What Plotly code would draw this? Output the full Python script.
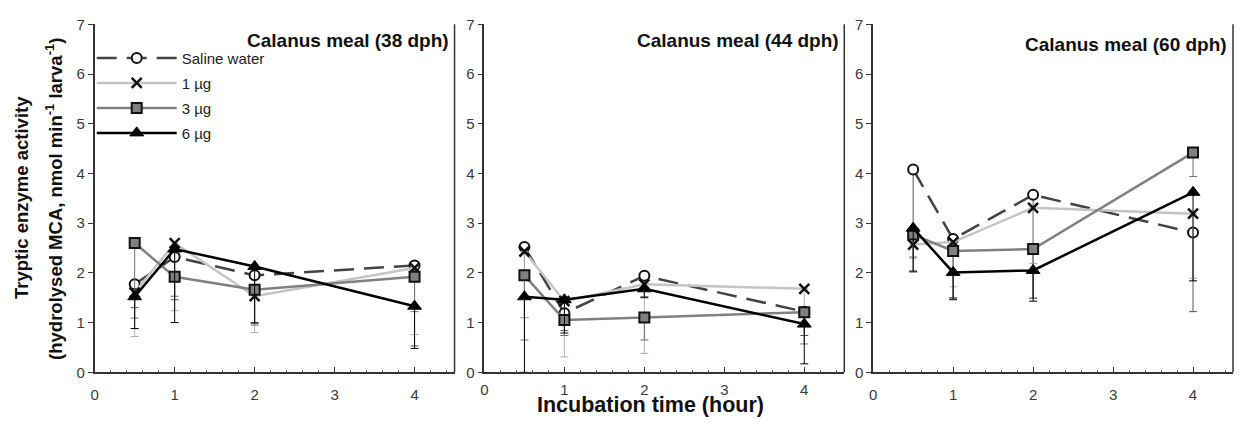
import plotly.graph_objects as go

times = [0.5, 1, 2, 4]
panel_titles = ["Calanus meal (38 dph)", "Calanus meal (44 dph)", "Calanus meal (60 dph)"]
series_names = ["Saline water", "1 µg", "3 µg", "6 µg"]

# mean values per panel (38, 44, 60 dph)
saline = [[1.77, 2.32, 1.95, 2.15], [2.52, 1.19, 1.94, 1.22], [4.08, 2.68, 3.57, 2.81]]
ug1 = [[1.60, 2.60, 1.53, 2.10], [2.43, 1.43, 1.77, 1.68], [2.57, 2.62, 3.31, 3.19]]
ug3 = [[2.60, 1.92, 1.66, 1.92], [1.95, 1.05, 1.10, 1.21], [2.77, 2.44, 2.48, 4.42]]
ug6 = [[1.52, 2.48, 2.13, 1.33], [1.52, 1.46, 1.68, 0.97], [2.90, 2.01, 2.05, 3.62]]

# lower end of the error bars
saline_low = [[1.30, 1.46, 1.00, 0.53], [1.10, 0.84, 1.52, 0.74], [2.04, 1.50, 1.49, 1.22]]
ug1_low = [[0.72, 1.24, 0.80, 0.76], [1.10, 0.31, 0.38, 1.30], [2.33, 1.72, 2.19, 1.89]]
ug3_low = [[1.09, 1.53, 0.95, 1.22], [0.65, 0.74, 0.65, 0.57], [2.30, 1.49, 1.49, 3.94]]
ug6_low = [[0.88, 1.00, 0.99, 0.48], [0.00, 0.79, 1.50, 0.17], [2.02, 1.46, 1.43, 1.84]]

x_ticks = [0, 1, 2, 3, 4]
y_ticks = [0, 1, 2, 3, 4, 5, 6, 7]

styles = [
    dict(line=dict(color="#444444", width=2.5, dash="20px,10px"),
         marker=dict(symbol="circle", size=10, color="white", line=dict(color="#111111", width=2)),
         ecolor="#555555"),
    dict(line=dict(color="#c4c4c4", width=2.5),
         marker=dict(symbol="x-thin", size=10, color="#111111", line=dict(color="#111111", width=2.5)),
         ecolor="#b0b0b0"),
    dict(line=dict(color="#808080", width=2.5),
         marker=dict(symbol="square", size=10, color="#808080", line=dict(color="#111111", width=2)),
         ecolor="#707070"),
    dict(line=dict(color="#000000", width=2.5),
         marker=dict(symbol="triangle-up", size=12, color="#000000", line=dict(color="#000000", width=1)),
         ecolor="#000000"),
]

all_vals = [saline, ug1, ug3, ug6]
all_low = [saline_low, ug1_low, ug3_low, ug6_low]

W, H = 1239, 423
x_domains = [(91 / W, 452 / W), (482 / W, 843 / W), (872 / W, 1233 / W)]
y_domain = (1 - 378.5 / H, 1 - 16 / H)

fig = go.Figure()
for p in range(3):
    xa = "x" if p == 0 else f"x{p+1}"
    ya = "y" if p == 0 else f"y{p+1}"
    for s in range(4):
        vals = all_vals[s][p]
        lows = all_low[s][p]
        minus = [v - l for v, l in zip(vals, lows)]
        st = styles[s]
        fig.add_trace(go.Scatter(
            x=times, y=vals, mode="lines+markers", name=series_names[s],
            line=st["line"], marker=st["marker"],
            error_y=dict(type="data", symmetric=False, array=[0] * len(vals), arrayminus=minus,
                         color=st["ecolor"], thickness=1, width=4),
            xaxis=xa, yaxis=ya, showlegend=(p == 0), legendgroup=series_names[s],
        ))

axis_font = dict(family="Liberation Sans, Arial, sans-serif", size=15, color="#3a3a3a")
layout = dict(
    width=W, height=H, margin=dict(l=0, r=0, t=0, b=0),
    paper_bgcolor="white", plot_bgcolor="white",
    font=dict(family="Liberation Sans, Arial, sans-serif", color="#222222"),
    legend=dict(x=88 / W, y=1 - 34 / H, xanchor="left", yanchor="top",
                font=dict(family="Liberation Sans, Arial, sans-serif", size=15, color="#222222"),
                bgcolor="rgba(0,0,0,0)", itemwidth=80, tracegroupgap=2.5),
)
shapes = []
annotations = []
for p in range(3):
    sfx = "" if p == 0 else str(p + 1)
    layout["xaxis" + sfx] = dict(
        domain=list(x_domains[p]), range=[0, 4.5], anchor="y" + sfx,
        tickvals=x_ticks, ticks="inside", ticklen=6, tickwidth=1.2, tickcolor="#333333",
        minor=dict(dtick=0.2, tick0=0, ticks="inside", ticklen=3, tickwidth=1, tickcolor="#555555"),
        showline=True, linecolor="#333333", linewidth=1.5, showgrid=False, zeroline=False,
        tickfont=axis_font, ticklabelstandoff=(8 if p != 1 else 3), fixedrange=True,
    )
    layout["yaxis" + sfx] = dict(
        domain=list(y_domain), range=[0, 7], anchor="x" + sfx,
        tickvals=y_ticks, ticks="outside", ticklen=5, tickwidth=1.2, tickcolor="#333333",
        showline=True, linecolor="#333333", linewidth=1.5, showgrid=False, zeroline=False,
        tickfont=axis_font, fixedrange=True,
    )
    shapes.append(dict(type="line", xref=f"x{sfx} domain", yref=f"y{sfx} domain",
                       x0=1, x1=1, y0=0, y1=1, line=dict(color="#333333", width=1.5)))
    annotations.append(dict(text=f"<b>{panel_titles[p]}</b>", xref=f"x{sfx} domain", yref="paper",
                            x=0.99, y=1 - (33 if p < 2 else 37) / H, xanchor="right", yanchor="middle",
                            showarrow=False, font=dict(size=19, color="#111111")))

annotations.append(dict(text="<b>Incubation time (hour)</b>", xref="paper", yref="paper",
                        x=649 / W, y=1 - 413 / H, xanchor="center", yanchor="middle", showarrow=False,
                        font=dict(size=21.5, color="#111111")))
annotations.append(dict(text="<b>Tryptic enzyme activity</b>", xref="paper", yref="paper",
                        x=17 / W, y=1 - 196 / H, xanchor="center", yanchor="middle", showarrow=False,
                        textangle=-90, font=dict(size=18.5, color="#111111")))
annotations.append(dict(text="<b>(hydrolysed MCA, nmol min<sup>-1</sup> larva<sup>-1</sup>)</b>",
                        xref="paper", yref="paper",
                        x=50 / W, y=1 - 198 / H, xanchor="center", yanchor="middle", showarrow=False,
                        textangle=-90, font=dict(size=18.5, color="#111111")))
layout["shapes"] = shapes
layout["annotations"] = annotations
fig.update_layout(**layout)
fig.write_html("out.html")
